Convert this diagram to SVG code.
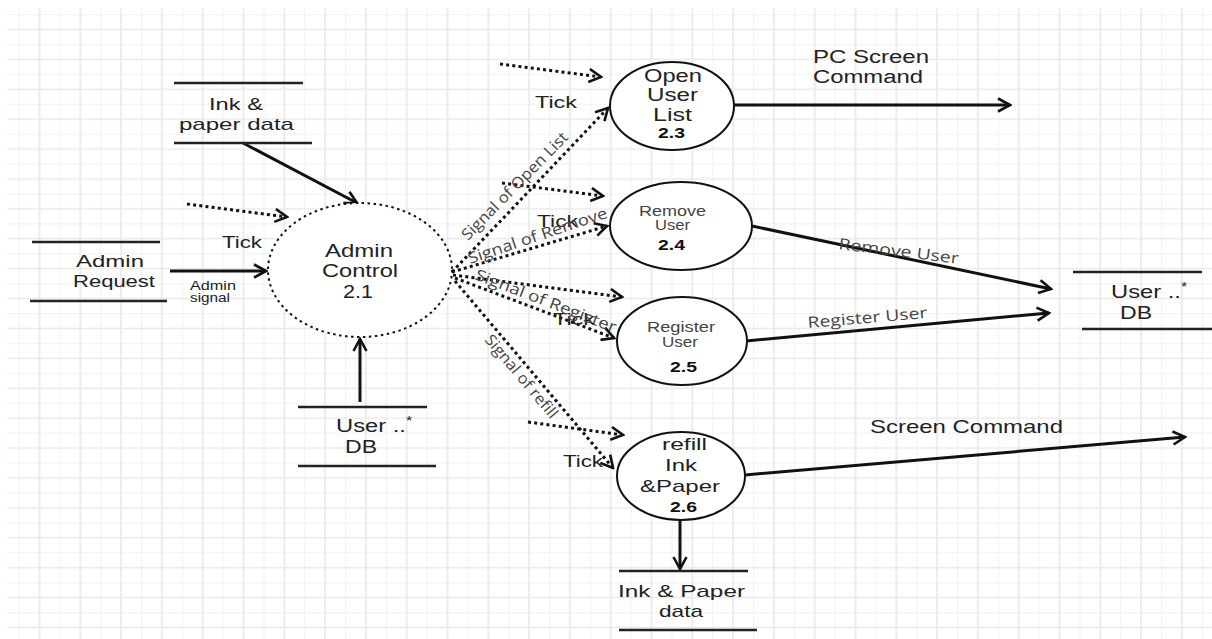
<svg xmlns="http://www.w3.org/2000/svg" width="1212" height="639" viewBox="0 0 1212 639">
<defs>
<pattern id="grid" patternUnits="userSpaceOnUse" x="18.6" y="14" width="40.8" height="29.9">
<path d="M0.5 0V29.9M0 0.5H40.8" stroke="#f3f3f3" stroke-width="1.4" fill="none"/>
<path d="M20.9 0V29.9M0 15.45H40.8" stroke="#e9e9e9" stroke-width="1.7" fill="none"/>
</pattern>
<marker id="arr" viewBox="0 0 16 16" refX="14" refY="8" markerWidth="16" markerHeight="16" orient="auto" markerUnits="userSpaceOnUse">
<path d="M2 1.5L14 8L2 14.5" fill="none" stroke="#111" stroke-width="2.6"/>
</marker>
<style>
.solid{stroke:#111;stroke-width:3;fill:none}
.dot{stroke:#111;stroke-width:3;fill:none;stroke-dasharray:3 3.2}
.proc{fill:#fff;stroke:#111;stroke-width:2}
.store{stroke:#222;stroke-width:2.5}
.t{font-family:"Liberation Sans",Arial,sans-serif;fill:#222}
.g{font-family:"Liberation Sans",Arial,sans-serif;fill:#444}
.b{font-family:"Liberation Sans",Arial,sans-serif;fill:#111;font-weight:bold}
.sig{font-family:"Open Sans","DejaVu Sans",sans-serif;fill:#444;font-size:15.5px}
</style>
</defs>
<rect width="1212" height="639" fill="#fff"/>
<rect x="7" y="8" width="1205" height="631" fill="url(#grid)"/>

<g id="connectors">
<line class="solid" x1="243" y1="143" x2="357" y2="203" marker-end="url(#arr)"/>
<line class="dot" x1="187" y1="204" x2="287" y2="217" marker-end="url(#arr)"/>
<line class="solid" x1="170" y1="271" x2="266" y2="271" marker-end="url(#arr)"/>
<line class="solid" x1="360" y1="402" x2="360" y2="339" marker-end="url(#arr)"/>
<line class="dot" x1="500" y1="64" x2="601" y2="77" marker-end="url(#arr)"/>
<line class="dot" x1="452" y1="272" x2="608" y2="108" marker-end="url(#arr)"/>
<line class="dot" x1="502" y1="183" x2="603" y2="196" marker-end="url(#arr)"/>
<line class="dot" x1="452" y1="272" x2="607" y2="226" marker-end="url(#arr)"/>
<line class="dot" x1="453" y1="275" x2="622" y2="297" marker-end="url(#arr)"/>
<line class="dot" x1="455" y1="278" x2="614" y2="338" marker-end="url(#arr)"/>
<line class="dot" x1="455" y1="281" x2="613" y2="468" marker-end="url(#arr)"/>
<line class="dot" x1="528" y1="422" x2="623" y2="435" marker-end="url(#arr)"/>
<line class="solid" x1="734" y1="105" x2="1010" y2="105" marker-end="url(#arr)"/>
<line class="solid" x1="752" y1="226" x2="1051" y2="289" marker-end="url(#arr)"/>
<line class="solid" x1="746" y1="341" x2="1049" y2="313" marker-end="url(#arr)"/>
<line class="solid" x1="745" y1="475" x2="1185" y2="437" marker-end="url(#arr)"/>
<line class="solid" x1="680" y1="520" x2="680" y2="569" marker-end="url(#arr)"/>

<text class="t" x="222" y="248" font-size="17" textLength="40" lengthAdjust="spacingAndGlyphs">Tick</text>
<text class="t" x="190" y="290" font-size="12" textLength="46" lengthAdjust="spacingAndGlyphs">Admin</text>
<text class="t" x="190" y="302" font-size="12" textLength="40" lengthAdjust="spacingAndGlyphs">signal</text>
<text class="t" x="535" y="108" font-size="17" textLength="42" lengthAdjust="spacingAndGlyphs">Tick</text>
<text class="t" x="537" y="227" font-size="17" textLength="41" lengthAdjust="spacingAndGlyphs">Tick</text>
<text class="t" x="553" y="325" font-size="17" textLength="42" lengthAdjust="spacingAndGlyphs">Tick</text>
<text class="t" x="563" y="467" font-size="17" textLength="40" lengthAdjust="spacingAndGlyphs">Tick</text>
<text class="sig" transform="translate(468 241) rotate(-45.5)" textLength="144" lengthAdjust="spacingAndGlyphs">Signal of Open List</text>
<text class="sig" transform="translate(470 264) rotate(-18.6)" textLength="146" lengthAdjust="spacingAndGlyphs">Signal of Remove</text>
<text class="sig" transform="translate(474 279) rotate(21)" textLength="150" lengthAdjust="spacingAndGlyphs">Signal of Register</text>
<text class="sig" transform="translate(484 340) rotate(50)" font-size="14.5" textLength="104" lengthAdjust="spacingAndGlyphs">Signal of refill</text>
<text class="t" x="813" y="63" font-size="18" textLength="116" lengthAdjust="spacingAndGlyphs">PC Screen</text>
<text class="t" x="813" y="83" font-size="18" textLength="110" lengthAdjust="spacingAndGlyphs">Command</text>
<text class="sig" transform="translate(838 249) rotate(7)" font-size="16" textLength="121" lengthAdjust="spacingAndGlyphs">Remove User</text>
<text class="sig" transform="translate(808 328) rotate(-4.8)" font-size="16" textLength="120" lengthAdjust="spacingAndGlyphs">Register User</text>
<text class="t" x="870" y="433" font-size="19" textLength="193" lengthAdjust="spacingAndGlyphs">Screen Command</text>
</g>

<g id="store-ink-paper-top">
<line class="store" x1="174" y1="83" x2="303" y2="83"/>
<line class="store" x1="174" y1="143" x2="312" y2="143"/>
<text class="t" x="209" y="110" font-size="17" textLength="54" lengthAdjust="spacingAndGlyphs">Ink &amp;</text>
<text class="t" x="179" y="130" font-size="17" textLength="115" lengthAdjust="spacingAndGlyphs">paper data</text>
</g>

<g id="store-admin-request">
<line class="store" x1="32" y1="242" x2="160" y2="242"/>
<line class="store" x1="30" y1="301" x2="167" y2="301"/>
<text class="t" x="76" y="267" font-size="17" textLength="68" lengthAdjust="spacingAndGlyphs">Admin</text>
<text class="t" x="73" y="287" font-size="17" textLength="82" lengthAdjust="spacingAndGlyphs">Request</text>
</g>

<g id="proc-admin-control">
<ellipse cx="360" cy="270" rx="92" ry="67" fill="#fff" stroke="#111" stroke-width="2" stroke-dasharray="2.5 3.5"/>
<text class="t" x="325" y="257" font-size="18" textLength="68" lengthAdjust="spacingAndGlyphs">Admin</text>
<text class="t" x="322" y="277" font-size="18" textLength="76" lengthAdjust="spacingAndGlyphs">Control</text>
<text class="t" x="343" y="298" font-size="18" textLength="30" lengthAdjust="spacingAndGlyphs">2.1</text>
</g>

<g id="store-user-db-left">
<line class="store" x1="298" y1="407" x2="427" y2="407"/>
<line class="store" x1="298" y1="466" x2="436" y2="466"/>
<text class="t" transform="matrix(1.32 0 0 1 336 432)" font-size="18">User ..<tspan dy="-7" font-size="12">*</tspan></text>
<text class="t" x="345" y="453" font-size="18" textLength="32" lengthAdjust="spacingAndGlyphs">DB</text>
</g>

<g id="proc-open-user-list">
<ellipse class="proc" cx="672" cy="106" rx="62" ry="44"/>
<text class="t" x="644" y="82" font-size="18" textLength="58" lengthAdjust="spacingAndGlyphs">Open</text>
<text class="t" x="647" y="101" font-size="18" textLength="51" lengthAdjust="spacingAndGlyphs">User</text>
<text class="t" x="653" y="121" font-size="18" textLength="39" lengthAdjust="spacingAndGlyphs">List</text>
<text class="b" x="658" y="138" font-size="15" textLength="27" lengthAdjust="spacingAndGlyphs">2.3</text>
</g>

<g id="proc-remove-user">
<ellipse class="proc" cx="681" cy="226" rx="71" ry="44"/>
<text class="g" x="639" y="216" font-size="14" textLength="67" lengthAdjust="spacingAndGlyphs">Remove</text>
<text class="g" x="655" y="230" font-size="14" textLength="35" lengthAdjust="spacingAndGlyphs">User</text>
<text class="b" x="658" y="250" font-size="15" textLength="27" lengthAdjust="spacingAndGlyphs">2.4</text>
</g>

<g id="proc-register-user">
<ellipse class="proc" cx="682" cy="341" rx="65" ry="44"/>
<text class="g" x="647" y="332" font-size="14" textLength="68" lengthAdjust="spacingAndGlyphs">Register</text>
<text class="g" x="662" y="347" font-size="14" textLength="36" lengthAdjust="spacingAndGlyphs">User</text>
<text class="b" x="670" y="372" font-size="15" textLength="27" lengthAdjust="spacingAndGlyphs">2.5</text>
</g>

<g id="proc-refill">
<ellipse class="proc" cx="681" cy="476" rx="64" ry="44"/>
<text class="t" x="662" y="450" font-size="17" textLength="45" lengthAdjust="spacingAndGlyphs">refill</text>
<text class="t" x="665" y="471" font-size="17" textLength="32" lengthAdjust="spacingAndGlyphs">Ink</text>
<text class="t" x="640" y="492" font-size="17" textLength="80" lengthAdjust="spacingAndGlyphs">&amp;Paper</text>
<text class="b" x="670" y="512" font-size="15" textLength="27" lengthAdjust="spacingAndGlyphs">2.6</text>
</g>

<g id="store-user-db-right">
<line class="store" x1="1073" y1="272" x2="1202" y2="272"/>
<line class="store" x1="1082" y1="329" x2="1212" y2="329"/>
<text class="t" transform="matrix(1.32 0 0 1 1111 298)" font-size="18">User ..<tspan dy="-7" font-size="12">*</tspan></text>
<text class="t" x="1120" y="319" font-size="18" textLength="32" lengthAdjust="spacingAndGlyphs">DB</text>
</g>

<g id="store-ink-paper-bottom">
<line class="store" x1="619" y1="571" x2="748" y2="571"/>
<line class="store" x1="619" y1="630" x2="757" y2="630"/>
<text class="t" x="618" y="597" font-size="17" textLength="127" lengthAdjust="spacingAndGlyphs">Ink &amp; Paper</text>
<text class="t" x="659" y="617" font-size="17" textLength="44" lengthAdjust="spacingAndGlyphs">data</text>
</g>
</svg>
